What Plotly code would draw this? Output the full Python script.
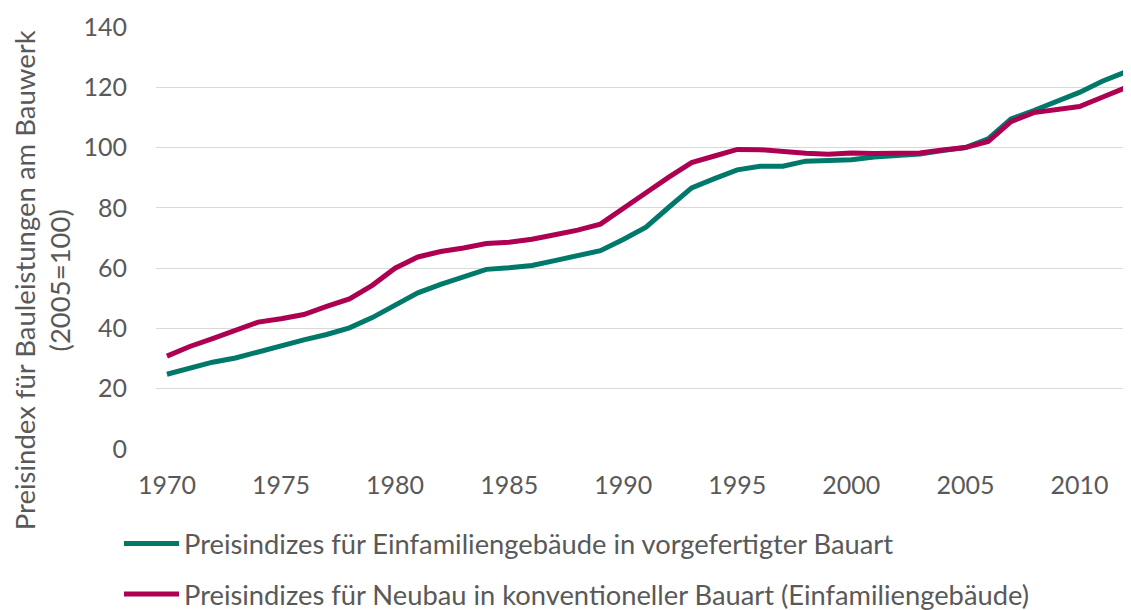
import plotly.graph_objects as go

years = list(range(1970, 2013))
vorgefertigt = [24.8, 26.9, 28.8, 30.2, 32.3, 34.4, 36.2, 38.0, 40.2, 43.6,
                47.6, 51.8, 54.6, 57.2, 59.6, 60.1, 60.9, 62.5, 64.3, 65.8,
                69.5, 73.6, 80.2, 86.6, 89.7, 92.6, 93.8, 93.8, 95.5, 95.6,
                96.0, 96.9, 97.5, 97.9, 99.0, 100.0, 102.9, 109.5, 112.3, 115.1,
                118.3, 122.0, 125.0]
konventionell = [30.8, 34.0, 36.6, 39.3, 42.1, 43.2, 44.6, 47.3, 49.8, 54.3,
                 60.0, 63.7, 65.5, 66.7, 68.2, 68.6, 69.6, 71.1, 72.6, 74.6,
                 79.6, 85.0, 90.2, 95.0, 97.2, 99.4, 99.3, 98.5, 98.1, 97.8,
                 98.2, 98.0, 98.0, 98.2, 99.2, 100.0, 102.0, 108.6, 111.6, 112.5,
                 113.6, 116.7, 119.8]
name_a = "Preisindizes für Einfamiliengebäude in vorgefertigter Bauart"
name_b = "Preisindizes für Neubau in konventioneller Bauart (Einfamiliengebäude)"
x_ticks = [1970, 1975, 1980, 1985, 1990, 1995, 2000, 2005, 2010]
y_ticks = [0, 20, 40, 60, 80, 100, 120, 140]
y_title = "Preisindex für Bauleistungen am Bauwerk<br>(2005=100)"

FONT = "Lato"
GREY = "#595959"

fig = go.Figure()
fig.add_trace(go.Scatter(x=years, y=vorgefertigt, mode="lines", name=name_a,
                         legendgroup="a",
                         line=dict(color="#00786A", width=5)))
fig.add_trace(go.Scatter(x=years, y=konventionell, mode="lines", name=name_b,
                         legendgroup="b",
                         line=dict(color="#AE0052", width=5)))

# page is rendered with an 8px body margin, so the figure is 8px smaller
W, H = 1123, 602
L, R = 148, 0
T = 18.6
BOT = 440.8
B = H - BOT
PW = W - L - R
PH = BOT - T

fig.update_layout(
    width=W, height=H,
    margin=dict(l=L, r=R, t=T, b=B, pad=0, autoexpand=False),
    paper_bgcolor="white", plot_bgcolor="white",
    font=dict(family=FONT, size=25, color=GREY),
    showlegend=True,
    legend=dict(orientation="v", x=(111 - L) / PW, xanchor="left",
                y=-(511 - BOT) / PH, yanchor="top",
                font=dict(size=27.3, color=GREY, family=FONT), tracegroupgap=12,
                itemwidth=55, bgcolor="rgba(0,0,0,0)"),
    xaxis=dict(range=[1969.52, 2012.26], tickvals=x_ticks, showgrid=False,
               zeroline=False, showline=False, ticks="outside", ticklen=14,
               tickcolor="rgba(0,0,0,0)", tickfont=dict(size=25, color=GREY),
               automargin=False),
    yaxis=dict(range=[0, 140], tickvals=y_ticks, showgrid=True,
               gridcolor="#D9D9D9", gridwidth=1.3, zeroline=False, showline=False,
               ticks="outside", ticklen=23, tickcolor="rgba(0,0,0,0)",
               tickfont=dict(size=25, color=GREY), automargin=False),
    annotations=[dict(text=y_title, textangle=-90, xref="paper", yref="paper",
                      x=(34 - L) / PW, y=(BOT - 272) / PH,
                      xanchor="center", yanchor="middle", showarrow=False,
                      font=dict(size=27.5, color=GREY, family=FONT))],
)

fig.write_html("out.html")
